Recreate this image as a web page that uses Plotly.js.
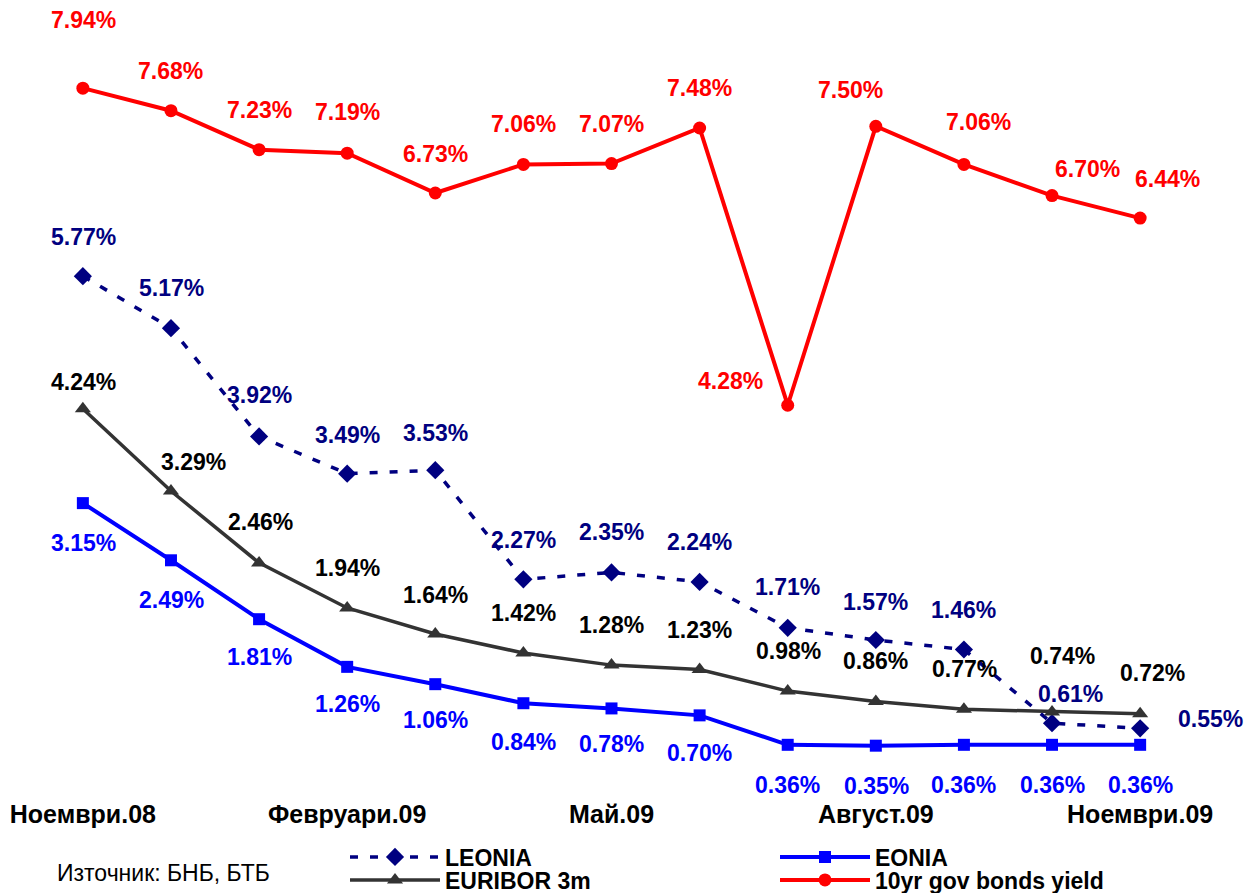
<!DOCTYPE html>
<html>
<head>
<meta charset="utf-8">
<script src="https://cdn.plot.ly/plotly-3.0.1.min.js"></script>
<style>html,body{margin:0;padding:0;background:#fff;}#chart{width:1254px;height:893px;}</style>
</head>
<body>
<div id="chart"></div>
<script>
// ---- data ----
const months = ['Ноември.08','Декември.08','Януари.09','Февруари.09','Март.09','Април.09','Май.09','Юни.09','Юли.09','Август.09','Септември.09','Октомври.09','Ноември.09'];
const tickIdx = [0, 3, 6, 9, 12];
const tickLabels = ['Ноември.08','Февруари.09','Май.09','Август.09','Ноември.09'];
const leonia  = [5.77, 5.17, 3.92, 3.49, 3.53, 2.27, 2.35, 2.24, 1.71, 1.57, 1.46, 0.61, 0.55];
const euribor = [4.24, 3.29, 2.46, 1.94, 1.64, 1.42, 1.28, 1.23, 0.98, 0.86, 0.77, 0.74, 0.72];
const eonia   = [3.15, 2.49, 1.81, 1.26, 1.06, 0.84, 0.78, 0.70, 0.36, 0.35, 0.36, 0.36, 0.36];
const bonds   = [7.94, 7.68, 7.23, 7.19, 6.73, 7.06, 7.07, 7.48, 4.28, 7.50, 7.06, 6.70, 6.44];
const seriesNames = ['LEONIA', 'EONIA', 'EURIBOR 3m', '10yr gov bonds yield'];
const sourceText = 'Източник: БНБ, БТБ';

// ---- label offsets (px, dx right, dy down) ----
const offBonds = [[1,-68],[0,-40],[0,-40],[0,-41],[0,-39],[0,-40],[0,-40],[0,-40],[-57,-24],[-25,-36],[15,-42],[35,-27],[27,-39]];
const offLeonia = [[1,-39],[1,-40],[0,-41],[0,-39],[0,-37],[0,-39],[0,-40],[0,-40],[0,-41],[0,-38],[0,-40],[18,-29],[70,-9]];
const offEuribor = [[1,-27],[23,-29],[1,-41],[0,-40],[0,-39],[0,-40],[0,-40],[0,-39],[1,-40],[0,-41],[1,-40],[10,-56],[12,-41]];
const offEonia = [[1,40],[1,40],[0,38],[0,37],[0,36],[0,39],[0,36],[0,38],[0,40],[1,40],[0,40],[0,40],[0,40]];

const FONT = 'Liberation Sans, Arial, sans-serif';
const LBL = 23;
const W = 1254, H = 893;
const M = {l: 30, r: 61, t: 5, b: 117};
const PW = W - M.l - M.r, PH = H - M.t - M.b;
const x = months.map((_, i) => i);

const traces = [
  {x, y: leonia, name: seriesNames[0], mode: 'lines+markers', legend: 'legend',
   line: {color: '#000080', width: 3.5, dash: '8px,12px'}, marker: {symbol: 'diamond', size: 14, color: '#000080'}},
  {x, y: eonia, name: seriesNames[1], mode: 'lines+markers', legend: 'legend2',
   line: {color: '#0000FF', width: 4}, marker: {symbol: 'square', size: 12, color: '#0000FF'}},
  {x, y: euribor, name: seriesNames[2], mode: 'lines+markers', legend: 'legend3',
   line: {color: '#333333', width: 3.5}, marker: {symbol: 'triangle-up', size: 14, color: '#333333'}},
  {x, y: bonds, name: seriesNames[3], mode: 'lines+markers', legend: 'legend4',
   line: {color: '#FF0000', width: 4}, marker: {symbol: 'circle', size: 13, color: '#FF0000'}}
];

function labels(vals, offs, color) {
  return vals.map((v, i) => ({
    xref: 'x', yref: 'y', x: i, y: v, text: v.toFixed(2) + '%', showarrow: false,
    xshift: offs[i][0], yshift: -offs[i][1],
    font: {family: FONT, size: LBL, color: color, weight: 'bold'}
  }));
}

const annotations = [].concat(
  labels(bonds, offBonds, '#FF0000'),
  labels(leonia, offLeonia, '#000080'),
  labels(euribor, offEuribor, '#000000'),
  labels(eonia, offEonia, '#0000FF'),
  [{xref: 'paper', yref: 'paper', x: (55 - M.l) / PW, y: (H - M.b - 873) / PH, xanchor: 'left', yanchor: 'middle',
    text: sourceText, showarrow: false, font: {family: FONT, size: 23, color: '#000000'}}]
);

function leg(px, py) {
  return {xref: 'container', yref: 'container', x: px/W, y: 1 - py/H, xanchor: 'left', yanchor: 'middle',
          bgcolor: 'rgba(0,0,0,0)', borderwidth: 0, itemwidth: 90, itemclick: false, itemdoubleclick: false,
          font: {family: FONT, size: LBL, color: '#000000', weight: 'bold'}};
}

const layout = {
  width: W, height: H,
  margin: {l: M.l, r: M.r, t: M.t, b: M.b, autoexpand: false},
  paper_bgcolor: '#ffffff', plot_bgcolor: '#ffffff',
  showlegend: true,
  xaxis: {range: [-0.6, 12.6], showgrid: false, zeroline: false, showline: false, ticks: '',
          tickvals: tickIdx, ticktext: tickLabels, ticklabelstandoff: 21, tickangle: 0, automargin: false,
          tickfont: {family: FONT, size: 25, color: '#000000', weight: 'bold'}},
  yaxis: {range: [0, 8.9], showgrid: false, zeroline: false, showline: false, showticklabels: false, ticks: '', automargin: false},
  legend: leg(345, 857),
  legend2: leg(775, 857),
  legend3: leg(345, 880),
  legend4: leg(775, 880),
  annotations: annotations
};

Plotly.newPlot('chart', traces, layout, {displayModeBar: false, staticPlot: true});
</script>
</body>
</html>
